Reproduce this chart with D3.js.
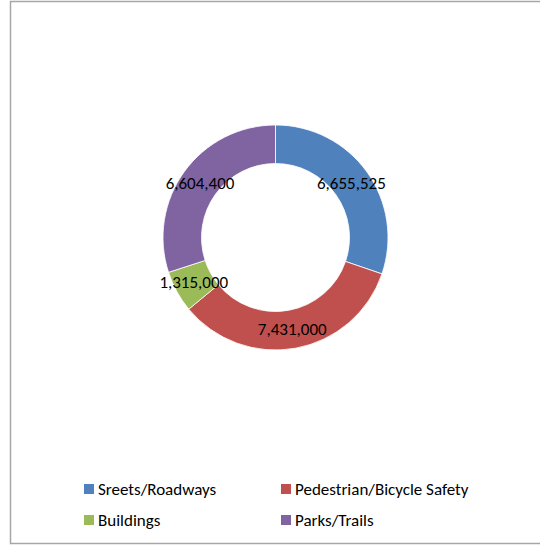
<!DOCTYPE html>
<html><head><meta charset="utf-8">
<script src="https://cdn.jsdelivr.net/npm/d3@7/dist/d3.min.js"></script>
<style>html,body{margin:0;padding:0;background:#fff;}svg{display:block;}</style>
</head><body>
<script>
const categories = ["Sreets/Roadways", "Pedestrian/Bicycle Safety", "Buildings", "Parks/Trails"];
const values = [6655525, 7431000, 1315000, 6604400];
const labels = ["6,655,525", "7,431,000", "1,315,000", "6,604,400"];
const colors = ["#4f81bd", "#c0504d", "#9bbb59", "#8064a2"];

const W = 540, H = 547;
const FONT = "Carlito, Lato, 'Liberation Sans', Arial, sans-serif";
const svg = d3.select("body").append("svg").attr("width", W).attr("height", H);
svg.append("rect").attr("x", 10.5).attr("y", 1.5).attr("width", 540).attr("height", 542)
  .attr("fill", "#fff").attr("stroke", "#a6a6a6").attr("stroke-width", 1.5);

const cx = 275.5, cy = 237.5, rOuter = 112.5, rInner = 74;
const pie = d3.pie().sort(null).value(d => d)(values);
const arc = d3.arc().innerRadius(rInner).outerRadius(rOuter);
const g = svg.append("g").attr("transform", `translate(${cx},${cy})`);
g.selectAll("path").data(pie).join("path")
  .attr("d", arc).attr("fill", (d, i) => colors[i]).attr("stroke", "#fff").attr("stroke-width", 0.8);
g.selectAll("text").data(pie).join("text")
  .attr("transform", d => `translate(${arc.centroid(d)})`)
  .attr("text-anchor", "middle").attr("dy", "0.35em")
  .attr("font-family", FONT).attr("font-size", 17)
  .attr("fill", "#000").text((d, i) => labels[i]);

const legX = [84, 281], legY = [489, 520];
const leg = svg.append("g");
categories.forEach((c, i) => {
  const x = legX[i % 2], y = legY[Math.floor(i / 2)];
  leg.append("rect").attr("x", x).attr("y", y - 5).attr("width", 10).attr("height", 10).attr("fill", colors[i]);
  leg.append("text").attr("x", x + 14).attr("y", y).attr("dy", "0.35em")
    .attr("font-family", FONT).attr("font-size", 17)
    .attr("fill", "#000").text(c);
});
</script>
</body></html>
